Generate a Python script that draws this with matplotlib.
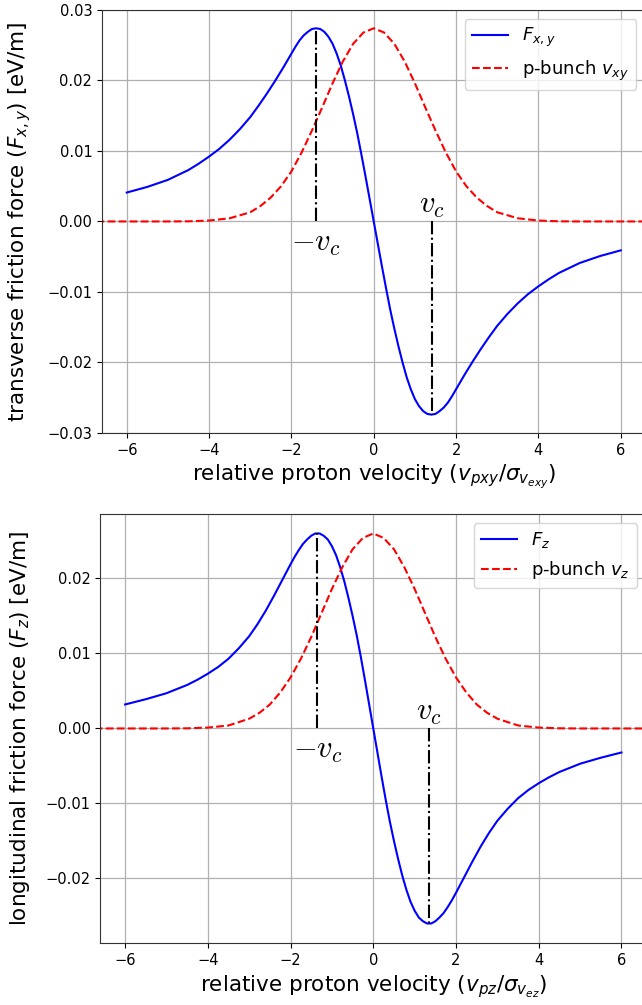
import numpy as np
import matplotlib
matplotlib.use("Agg")
import matplotlib.pyplot as plt

# velocity grid (units of sigma)
v_force = [-6.0, -5.5, -5.0, -4.5, -4.25, -4.0, -3.75, -3.5, -3.25, -3.0, -2.8, -2.6, -2.4, -2.2, -2.0,
           -1.9, -1.8, -1.7, -1.6, -1.5, -1.4, -1.3, -1.2, -1.1, -1.0,
           -0.9, -0.8, -0.7, -0.6, -0.5, -0.4, -0.3, -0.2, -0.1, 0.0,
           0.1, 0.2, 0.3, 0.4, 0.5, 0.6, 0.7, 0.8, 0.9,
           1.0, 1.1, 1.2, 1.3, 1.4, 1.5, 1.6, 1.7, 1.8, 1.9,
           2.0, 2.2, 2.4, 2.6, 2.8, 3.0, 3.25, 3.5, 3.75, 4.0, 4.25, 4.5, 5.0, 5.5, 6.0]

# transverse friction force [eV/m]
F_xy = [0.0041, 0.0049, 0.0059, 0.0073, 0.0082, 0.0092, 0.0103, 0.0116, 0.0131, 0.0148, 0.0164, 0.0181, 0.0199, 0.0218, 0.0238,
        0.0248, 0.0257, 0.0264, 0.0269, 0.0273, 0.0274, 0.0273, 0.0269, 0.0262, 0.0252,
        0.0238, 0.0221, 0.0200, 0.0177, 0.0152, 0.0125, 0.0095, 0.0064, 0.0032, 0.0,
        -0.0032, -0.0064, -0.0095, -0.0125, -0.0152, -0.0177, -0.0200, -0.0221, -0.0238,
        -0.0252, -0.0262, -0.0269, -0.0273, -0.0274, -0.0273, -0.0269, -0.0264, -0.0257, -0.0248,
        -0.0238, -0.0218, -0.0199, -0.0181, -0.0164, -0.0148, -0.0131, -0.0116, -0.0103, -0.0092, -0.0082, -0.0073,
        -0.0059, -0.0049, -0.0041]

# longitudinal friction force [eV/m]
F_z = [0.0032, 0.0039, 0.0047, 0.0058, 0.0065, 0.0073, 0.0082, 0.0093, 0.0107, 0.0123, 0.0139, 0.0157, 0.0177, 0.0198, 0.0219,
       0.0229, 0.0238, 0.0246, 0.0252, 0.0257, 0.0260, 0.0260, 0.0257, 0.0252, 0.0243,
       0.0231, 0.0215, 0.0196, 0.0174, 0.0150, 0.0124, 0.0095, 0.0064, 0.0032, 0.0,
       -0.0032, -0.0064, -0.0095, -0.0124, -0.0150, -0.0174, -0.0196, -0.0215, -0.0231,
       -0.0243, -0.0252, -0.0257, -0.0260, -0.0260, -0.0257, -0.0252, -0.0246, -0.0238, -0.0229,
       -0.0219, -0.0198, -0.0177, -0.0157, -0.0139, -0.0123, -0.0107, -0.0093, -0.0082, -0.0073, -0.0065, -0.0058,
       -0.0047, -0.0039, -0.0032]

# proton bunch distributions (scaled to the force peak)
v_bunch = [-7.0, -6.0, -5.0, -4.5, -4.0, -3.5, -3.0, -2.75, -2.5, -2.25, -2.0, -1.75, -1.5,
           -1.25, -1.0, -0.75, -0.5, -0.25, 0.0, 0.25, 0.5, 0.75, 1.0, 1.25, 1.5,
           1.75, 2.0, 2.25, 2.5, 2.75, 3.0, 3.5, 4.0, 4.5, 5.0, 6.0, 7.0]
bunch_xy = [0.0, 0.0, 0.0, 0.00002, 0.00013, 0.00045, 0.0013, 0.0022, 0.0034, 0.0050, 0.0071, 0.0098, 0.0129,
            0.0162, 0.0196, 0.0227, 0.0252, 0.0268, 0.0274, 0.0268, 0.0252, 0.0227, 0.0196, 0.0162, 0.0129,
            0.0098, 0.0071, 0.0050, 0.0034, 0.0022, 0.0013, 0.00045, 0.00013, 0.00002, 0.0, 0.0, 0.0]
bunch_z = [0.0, 0.0, 0.0, 0.00002, 0.00012, 0.0004, 0.0013, 0.0021, 0.0032, 0.0048, 0.0068, 0.0093, 0.0122,
           0.0154, 0.0186, 0.0215, 0.0239, 0.0254, 0.0260, 0.0254, 0.0239, 0.0215, 0.0186, 0.0154, 0.0122,
           0.0093, 0.0068, 0.0048, 0.0032, 0.0021, 0.0013, 0.0004, 0.00012, 0.00002, 0.0, 0.0, 0.0]

# critical velocity and peak force
vc_xy, Fmax_xy = 1.41, 0.0274
vc_z, Fmax_z = 1.35, 0.0260

fig = plt.figure(figsize=(6.42, 10.05), dpi=100)
ax1 = fig.add_axes([0.1589, 0.5692, 0.8465, 0.4209])
ax2 = fig.add_axes([0.1562, 0.0617, 0.8505, 0.4269])

panels = [
    (ax1, F_xy, bunch_xy, vc_xy, Fmax_xy, r"$F_{x,y}$", r"p-bunch $v_{xy}$",
     r"transverse friction force ($F_{x,y}$) [eV/m]",
     r"relative proton velocity ($v_{pxy}/\sigma_{v_{exy}}$)"),
    (ax2, F_z, bunch_z, vc_z, Fmax_z, r"$F_z$", r"p-bunch $v_z$",
     r"longitudinal friction force ($F_z$) [eV/m]",
     r"relative proton velocity ($v_{pz}/\sigma_{v_{ez}}$)"),
]

for ax, F, bunch, vc, Fmax, lab_f, lab_b, ylab, xlab in panels:
    ax.plot(v_force, F, "b-", lw=1.5, label=lab_f)
    ax.plot(v_bunch, bunch, "r--", lw=1.5, label=lab_b)
    ax.plot([-vc, -vc], [0, Fmax], "k-.", lw=1.5)
    ax.plot([vc, vc], [0, -Fmax], "k-.", lw=1.5)
    ax.text(vc, 0.0002, r"$v_c$", ha="center", va="bottom", fontsize=22,
            math_fontfamily="cm")
    ax.text(-vc, -0.0010, r"$-v_c$", ha="center", va="top", fontsize=22,
            math_fontfamily="cm")
    ax.set_xlim(-6.6, 6.6)
    ax.set_xticks([-6, -4, -2, 0, 2, 4, 6])
    ax.grid(True, color="#b0b0b0", lw=0.9)
    ax.tick_params(labelsize=10.5)
    ax.set_ylabel(ylab, fontsize=15.5, labelpad=10)
    ax.set_xlabel(xlab, fontsize=15.5)
    ax.legend(loc="upper right", fontsize=13)
    for s in ax.spines.values():
        s.set_color("#333333")

ax1.set_ylim(-0.03, 0.03)
ax1.set_yticks([-0.03, -0.02, -0.01, 0.0, 0.01, 0.02, 0.03])
ax2.set_yticks([-0.02, -0.01, 0.0, 0.01, 0.02])

fig.savefig("out.png", dpi=100)
